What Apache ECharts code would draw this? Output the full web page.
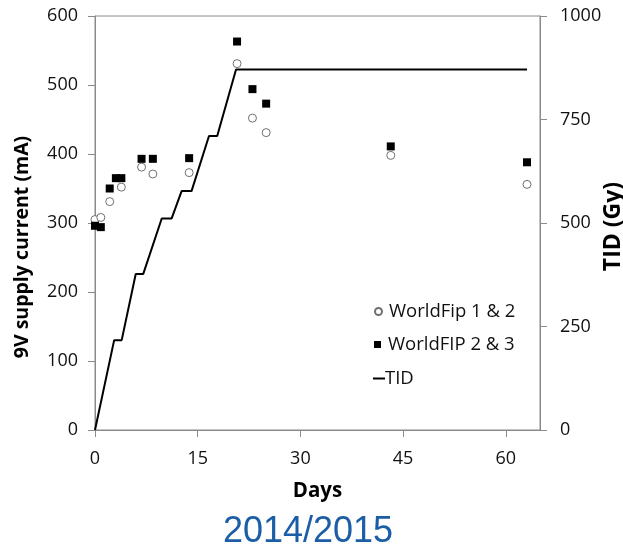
<!DOCTYPE html>
<html>
<head>
<meta charset="utf-8">
<script src="https://cdn.jsdelivr.net/npm/echarts@6/dist/echarts.min.js"></script>
<style>
html,body{margin:0;padding:0;background:#fff;}
#chart{width:623px;height:548px;}
</style>
</head>
<body>
<div id="chart"></div>
<script>
// Days and 9V supply current (mA)
var wf12Days = [0, 0.85, 2.15, 3.85, 6.8, 8.45, 13.75, 20.75, 23, 25, 43.2, 63.1];
var wf12Current = [305, 308, 331, 352, 381, 371, 373, 531, 452, 431, 398, 356];
var wf23Days = [0, 0.85, 2.15, 3.05, 3.85, 6.8, 8.45, 13.75, 20.75, 23, 25, 43.2, 63.1];
var wf23Current = [296, 294, 350, 365, 365, 393, 393, 394, 563, 494, 473, 411, 388];
// TID (Gy)
var tidDays = [0, 2.8, 3.9, 5.95, 7.05, 9.75, 11.2, 12.65, 14.1, 16.65, 17.85, 20.6, 63.1];
var tidGy = [0, 217, 217, 377, 377, 511, 511, 577, 577, 710, 710, 871, 871];
var xTicks = [0, 15, 30, 45, 60];

function zip(a, b) { return a.map(function (v, i) { return [v, b[i]]; }); }

var FONT = 'Open Sans';
var chart = echarts.init(document.getElementById('chart'));
var labelStyle = { fontFamily: FONT, fontSize: 18, color: '#111' };
var nameStyle = { fontFamily: FONT, fontSize: 20.5, fontWeight: 'bold', color: '#000' };
var axisLineStyle = { lineStyle: { color: '#8a8a8a', width: 1 } };
var legendText = { fontFamily: FONT, fontSize: 18.5, color: '#111', padding: [0, 0, 0, 2] };

chart.setOption({
  animation: false,
  backgroundColor: '#fff',
  grid: { left: 95, right: 83, top: 16, bottom: 118, show: true, borderColor: '#8a8a8a', borderWidth: 1,
    containLabel: false, outerBoundsMode: 'none' },
  xAxis: {
    type: 'value', min: 0, max: 65, interval: 15,
    name: 'Days', nameLocation: 'middle', nameGap: 51, nameTextStyle: nameStyle,
    axisLine: axisLineStyle,
    axisTick: { show: true, length: 7, lineStyle: { color: '#8a8a8a' } },
    axisLabel: Object.assign({ margin: 20, showMaxLabel: false,
      formatter: function (v) { return xTicks.indexOf(v) >= 0 ? String(v) : ''; } }, labelStyle),
    splitLine: { show: false }
  },
  yAxis: [{
    type: 'value', min: 0, max: 600, interval: 100, position: 'left',
    axisLine: { show: true, lineStyle: { color: '#8a8a8a', width: 1 } },
    axisTick: { show: true, length: 7, lineStyle: { color: '#8a8a8a' } },
    axisLabel: Object.assign({ margin: 17 }, labelStyle),
    splitLine: { show: false }
  }, {
    type: 'value', min: 0, max: 1000, interval: 250, position: 'right',
    axisLine: { show: true, lineStyle: { color: '#8a8a8a', width: 1 } },
    axisTick: { show: true, length: 7, lineStyle: { color: '#8a8a8a' } },
    axisLabel: Object.assign({ margin: 20, formatter: function (v) { return String(v); } }, labelStyle),
    splitLine: { show: false }
  }],
  legend: [{
    data: ['WorldFip 1 & 2'], left: 369, top: 297, orient: 'vertical',
    icon: 'circle', itemWidth: 7, itemHeight: 7, textStyle: legendText
  }, {
    data: ['WorldFIP 2 & 3'], left: 369, top: 330, orient: 'vertical',
    icon: 'rect', itemWidth: 7, itemHeight: 7, textStyle: legendText
  }, {
    data: ['TID'], left: 368, top: 364, orient: 'vertical',
    icon: 'rect', itemWidth: 12, itemHeight: 2,
    itemStyle: { color: '#000' },
    textStyle: { fontFamily: FONT, fontSize: 18.5, color: '#111', padding: [0, 0, 0, -5] }
  }],
  series: [{
    name: 'TID', type: 'line', yAxisIndex: 1, data: zip(tidDays, tidGy),
    showSymbol: false, symbol: 'none',
    lineStyle: { color: '#000', width: 2 }, itemStyle: { color: '#000' }, z: 2
  }, {
    name: 'WorldFip 1 & 2', type: 'scatter', yAxisIndex: 0, data: zip(wf12Days, wf12Current),
    symbol: 'circle', symbolSize: 8,
    itemStyle: { color: '#fff', borderColor: '#707070', borderWidth: 1, opacity: 1 }, z: 3
  }, {
    name: 'WorldFIP 2 & 3', type: 'scatter', yAxisIndex: 0, data: zip(wf23Days, wf23Current),
    symbol: 'rect', symbolSize: 8,
    itemStyle: { color: '#000', opacity: 1 }, z: 4
  }],
  graphic: [{
    type: 'text', x: 22.5, y: 247, rotation: Math.PI / 2,
    style: { text: '9V supply current (mA)', fontFamily: FONT, fontSize: 19.5, fontWeight: 'bold',
      fill: '#000', align: 'center', verticalAlign: 'middle' }
  }, {
    type: 'text', x: 613, y: 226.5, rotation: Math.PI / 2,
    style: { text: 'TID (Gy)', fontFamily: FONT, fontSize: 23, fontWeight: 'bold',
      fill: '#000', align: 'center', verticalAlign: 'middle' }
  }, {
    type: 'text', x: 308, y: 532,
    style: { text: '2014/2015', fontFamily: 'Liberation Sans', fontSize: 36, fill: '#1b5ea6',
      align: 'center', verticalAlign: 'middle' }
  }]
});
</script>
</body>
</html>
